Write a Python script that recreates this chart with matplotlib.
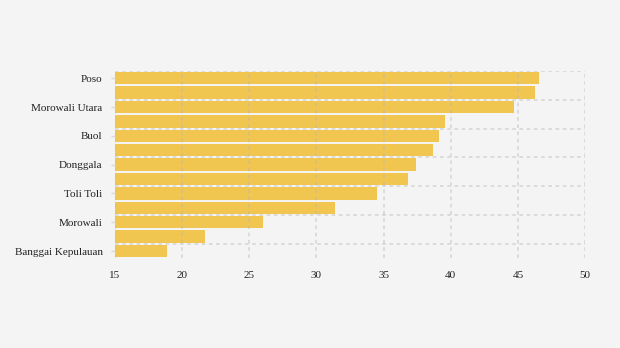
import numpy as np
import matplotlib.pyplot as plt

# regencies, top to bottom (only every other name is shown on the axis)
regions = ['Poso', 'Banggai', 'Morowali Utara', 'Sigi', 'Buol', 'Tojo Una-Una',
           'Donggala', 'Parigi Moutong', 'Toli Toli', 'Banggai Laut', 'Morowali',
           'Palu', 'Banggai Kepulauan']
values = [46.6, 46.3, 44.7, 39.6, 39.1, 38.7, 37.4, 36.8, 34.5, 31.4, 26.0, 21.7, 18.9]
xticks = [15, 20, 25, 30, 35, 40, 45, 50]

bg = '#f4f4f4'
plt.rcParams['font.family'] = ['Liberation Serif', 'DejaVu Serif']

fig = plt.figure(figsize=(6.2, 3.48), dpi=100, facecolor=bg)
ax = fig.add_axes([0.1855, 0.26, 0.758, 0.536], facecolor=bg)

pos = np.arange(len(regions))
ax.barh(pos, np.array(values) - 15, left=15, height=0.86, color='#f1c650', zorder=1)

ax.set_xlim(15, 50)
ax.set_ylim(12.45, -0.5)
ax.set_xticks(xticks)
ax.set_xticklabels([str(t) for t in xticks])
ax.set_yticks(pos[::2])
ax.set_yticklabels(regions[::2])
ax.set_yticks(pos[::2] - 0.5, minor=True)

ax.grid(True, axis='x', color='#b8b8b8', alpha=0.45, linestyle=(0, (2, 2)), linewidth=1.3, zorder=2)
ax.grid(True, axis='y', which='minor', color='#b8b8b8', alpha=0.45, linestyle=(0, (2, 2)), linewidth=1.3, zorder=2)
ax.set_axisbelow(False)

for s in ax.spines.values():
    s.set_visible(False)

ax.tick_params(axis='x', length=0, pad=10, labelsize=8, labelcolor='#222222')
ax.tick_params(axis='y', which='major', length=3, width=1, color='#d8d8d8', pad=6,
               labelsize=8, labelcolor='#222222')
ax.tick_params(axis='y', which='minor', length=0)

fig.savefig('out.png', dpi=100, facecolor=bg)
